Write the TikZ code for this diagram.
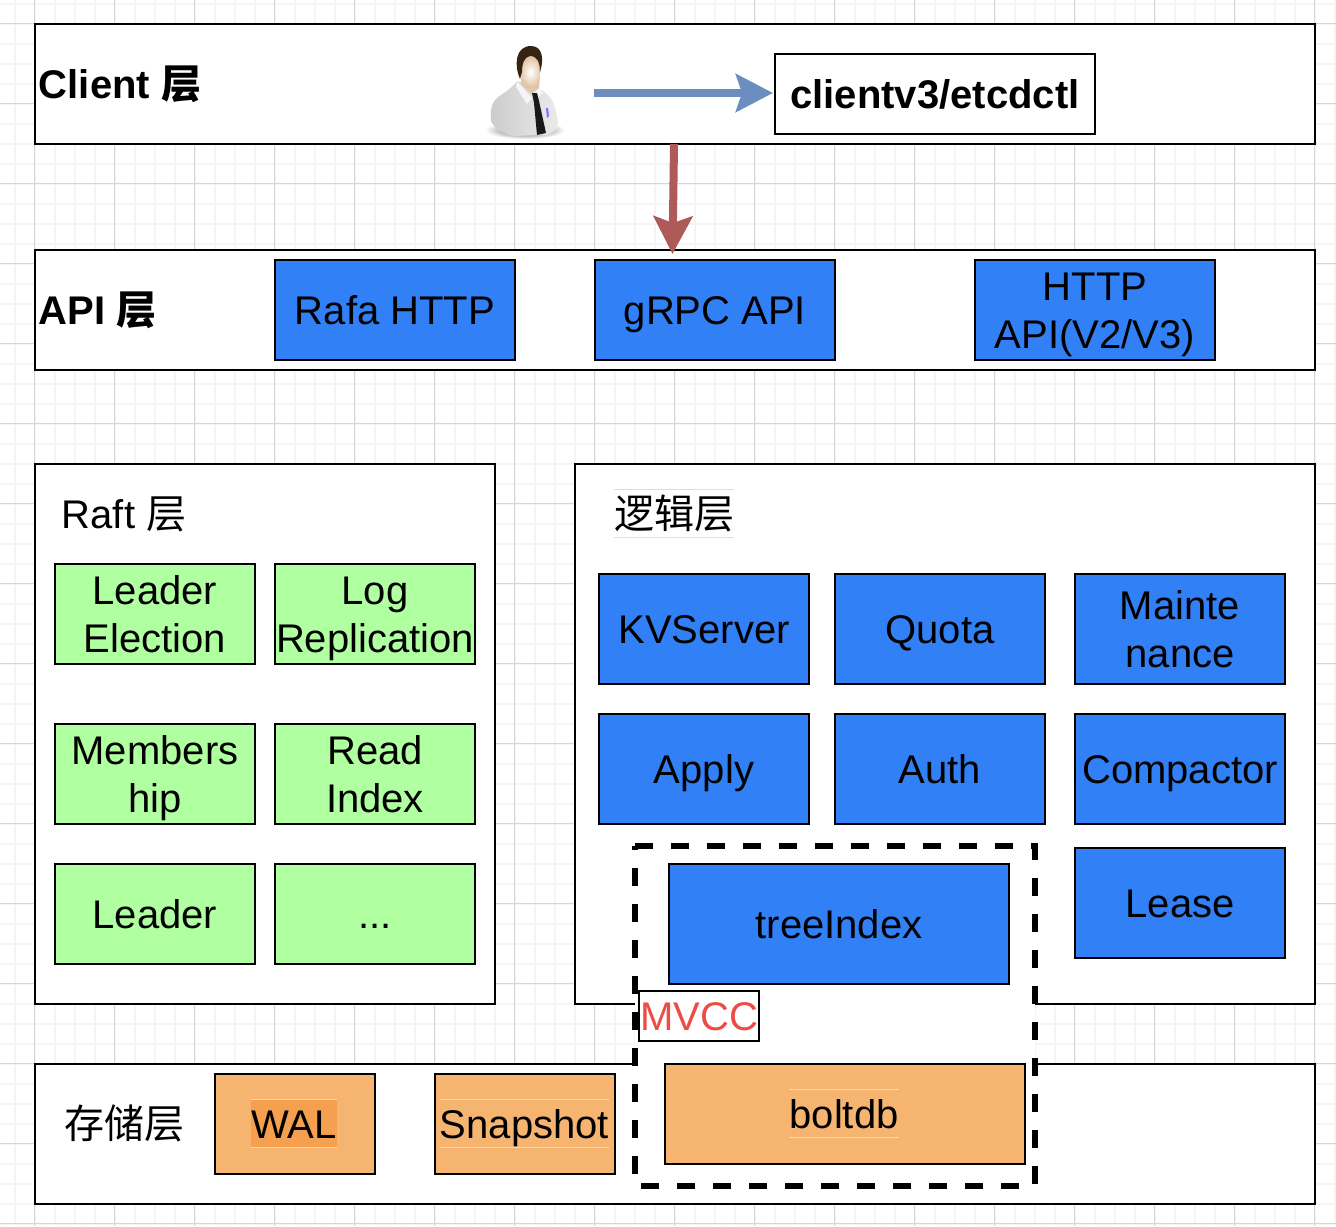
\documentclass[tikz,border=0pt]{standalone}
\usepackage{fontspec}
\setmainfont{Liberation Sans}
\newfontfamily\cjk{Noto Sans CJK SC}
\usetikzlibrary{arrows.meta}
\definecolor{boxblue}{HTML}{3280F6}
\definecolor{boxgreen}{HTML}{B0FFA0}
\definecolor{boxorange}{HTML}{F5B571}
\definecolor{waldark}{HTML}{F4A04F}
\definecolor{mvccred}{HTML}{EE4B44}
\definecolor{arrowblue}{HTML}{6C8EBF}
\definecolor{arrowred}{HTML}{AE5A58}
\definecolor{gridmajor}{HTML}{D6D6D6}
\definecolor{gridminor}{HTML}{F5F5F5}
\newcommand\rowstrut{\rule[-5pt]{0pt}{24pt}}
\newcommand\tworows[2]{\rowstrut #1\\#2\rowstrut}
\tikzset{
  basebox/.style={draw=black, line width=1pt, inner sep=0pt, outer sep=0pt, align=center,
    font=\fontsize{20}{24}\selectfont, execute at begin node=\rowstrut},
  layerbox/.style={draw=black, fill=white, line width=1pt, inner sep=0pt, outer sep=0pt},
  bluebox/.style={basebox, fill=boxblue},
  greenbox/.style={basebox, fill=boxgreen, minimum width=100pt, minimum height=50pt},
  orangebox/.style={draw=black, line width=1pt, inner sep=0pt, outer sep=0pt,
    fill=boxorange, minimum height=50pt},
  apibox/.style={bluebox, minimum width=120pt, minimum height=50pt},
  logicbox/.style={bluebox, minimum width=105pt, minimum height=55pt},
  layertitle/.style={inner sep=0pt, font=\fontsize{20}{24}\selectfont,
    execute at begin node=\rowstrut},
  boldtitle/.style={layertitle, anchor=west, font=\fontsize{20}{24}\bfseries\selectfont},
  hlline/.style={draw=boxgreen, line width=0.5pt},
  hltext/.style={inner sep=0pt, font=\fontsize{20}{24}\selectfont, minimum height=23.5pt,
    execute at begin node=\rule[-4.5pt]{0pt}{23.5pt},
    append after command={(\tikzlastnode.north west) edge[hlline] (\tikzlastnode.north east)
      (\tikzlastnode.south west) edge[hlline] (\tikzlastnode.south east)}},
  bluearrow/.style={draw=arrowblue, fill=arrowblue, line width=4pt, shorten >=1pt,
    -{Stealth[length=18.5pt,width=18.8pt,inset=3pt]}},
  redarrow/.style={draw=arrowred, fill=arrowred, line width=4pt,
    -{Stealth[length=18.8pt,width=19.3pt,inset=3.3pt]}},
}

\begin{document}
\begin{tikzpicture}[x=0.5pt, y=-0.5pt]

  \useasboundingbox (0,0) rectangle (1336,1226);
  \fill[white] (0,0) rectangle (1336,1226);

  \foreach \gx in {-5.5,14.5,...,1340}
    \draw[gridminor, line width=1pt] (\gx,0)--(\gx,1226);
  \foreach \gy in {3.5,23.5,...,1226}
    \draw[gridminor, line width=1pt] (0,\gy)--(1336,\gy);
  \foreach \gx in {34.5,114.5,...,1340}
    \draw[gridmajor, line width=0.5pt] (\gx,0)--(\gx,1226);
  \foreach \gy in {23.5,103.5,...,1226}
    \draw[gridmajor, line width=0.5pt] (0,\gy)--(1336,\gy);

  \node[layerbox, minimum width=640pt, minimum height=60pt] (clientlayer) at (675,84) {};
  \node[layerbox, minimum width=640pt, minimum height=60pt] (apilayer) at (675,310) {};
  \node[layerbox, minimum width=230pt, minimum height=270pt] (raftlayer) at (265,734) {};
  \node[layerbox, minimum width=370pt, minimum height=270pt] (logiclayer) at (945,734) {};
  \node[layerbox, minimum width=640pt, minimum height=70pt] (storelayer) at (675,1134) {};

  \node[boldtitle] (clienttitle) at (38.5,84) {Client {\cjk 层}};
  \node[boldtitle] (apititle) at (38.5,310) {API {\cjk 层}};
  \node[layertitle] (rafttitle) at (124,514) {Raft {\cjk 层}};
  \node[hltext] (logictitle) at (674,513.5) {\cjk 逻辑层};
  \node[layertitle] (storetitle) at (124,1124) {\cjk 存储层};

  % person
  \shade[inner color=black!70, outer color=white] (525,130) ellipse (40 and 9);
  \shade[left color=black!20, right color=black!8]
    (491,121) .. controls (490,110) and (492,102) .. (497,98)
    .. controls (505,92) and (512,88) .. (517,81)
    -- (539,88) .. controls (546,93) and (551,97) .. (553,102)
    .. controls (556,110) and (558,118) .. (558,126)
    .. controls (555,131) and (551,133) .. (547,135)
    -- (513,136) .. controls (505,134) and (495,130) .. (491,121) -- cycle;
  \fill[black!4] (517,81) -- (532,98) -- (527,104) -- (516,87) -- cycle;
  \fill[black!4] (539,87) -- (543,93) -- (535,100) -- (532,96) -- cycle;
  \fill[brown!45!white] (521,76) -- (540,76) -- (539,88) -- (531,94) -- (521,84) -- cycle;
  \fill[black!90] (532,93) -- (537,93) -- (539,101) -- (546,133) -- (537,135) -- (534,103) -- cycle;
  \fill[blue!55] (546,108) -- (548,108) -- (549,116) -- (547,118) -- cycle;
  \shade[inner color=white, outer color=brown!50!white]
    (520,56) .. controls (519,76) and (524,88) .. (530,88)
    .. controls (537,88) and (542,76) .. (541,56) -- cycle;
  \fill[black!72!brown] (520,79) .. controls (514,66) and (515,46) .. (531,46)
    .. controls (543,46) and (544,60) .. (540,72)
    .. controls (540,62) and (537,56) .. (530,56)
    .. controls (524,57) and (522,64) .. (522,72) -- cycle;

  \coordinate (personout) at (594,93);
  \node[basebox, fill=white, minimum width=160pt, minimum height=40pt,
    font=\fontsize{20}{24}\bfseries\selectfont] (etcdctl) at (935,94) {clientv3/etcdctl};
  \draw[bluearrow] (personout) -- (personout -| etcdctl.west);

  \node[apibox] (rafahttp) at (395,310) {Rafa HTTP};
  \node[apibox] (grpcapi) at (715,310) {gRPC API};
  \node[apibox] (httpapi) at (1095,310) {\tworows{HTTP}{API(V2/V3)}};

  \coordinate (clientout) at (674,144);
  \coordinate (grpcin) at (672.5,254);
  \draw[redarrow] (clientlayer.south -| clientout) -- (grpcin);

  \node[greenbox] (election) at (155,614) {\tworows{Leader}{Election}};
  \node[greenbox] (replication) at (375,614) {\tworows{Log}{Replication}};
  \node[greenbox] (membership) at (155,774) {\tworows{Members}{hip}};
  \node[greenbox] (readindex) at (375,774) {\tworows{Read}{Index}};
  \node[greenbox] (leader) at (155,914) {Leader};
  \node[greenbox] (dots) at (375,914) {...};

  \node[logicbox] (kvserver) at (704,629) {KVServer};
  \node[logicbox] (quota) at (940,629) {Quota};
  \node[logicbox] (maintenance) at (1180,629) {\tworows{Mainte}{nance}};
  \node[logicbox] (apply) at (704,769) {Apply};
  \node[logicbox] (auth) at (940,769) {Auth};
  \node[logicbox] (compactor) at (1180,769) {Compactor};
  \node[logicbox] (lease) at (1180,903) {Lease};

  \node[orangebox, minimum width=80pt] (walbox) at (295,1124) {};
  \node[orangebox, minimum width=90pt] (snapbox) at (525,1124) {};
  \node[hltext, fill=waldark] (waltext) at (294,1123.5) {WAL};
  \node[hltext] (snaptext) at (524.5,1123.5) {Snapshot};

  \draw[line width=3pt, dash pattern=on 9pt off 9pt, fill=white]
    (635,846) -- (1035,846) -- (1035,1186) -- (635,1186) -- cycle;

  \node[bluebox, minimum width=170pt, minimum height=60pt] (treeindex) at (839,924) {treeIndex};
  \node[orangebox, minimum width=180pt] (boltbox) at (845,1114) {};
  \node[hltext] (bolttext) at (844,1113.5) {boltdb};

  \node[basebox, fill=white, text=mvccred, minimum width=60pt, minimum height=25pt] (mvcc) at (699,1016) {MVCC};

\end{tikzpicture}
\end{document}
